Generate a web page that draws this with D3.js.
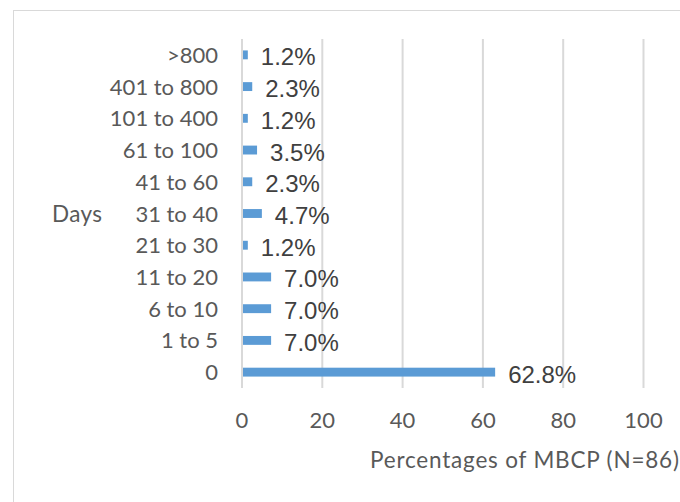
<!DOCTYPE html>
<html><head><meta charset="utf-8">
<script src="https://cdn.jsdelivr.net/npm/d3@7"></script>
<style>body{margin:0;background:#fff}svg{display:block}</style>
</head><body><svg id="c" width="680" height="502"></svg>
<script>
const categories = ["0","1 to 5","6 to 10","11 to 20","21 to 30","31 to 40","41 to 60","61 to 100","101 to 400","401 to 800",">800"];
const values = [62.8,7.0,7.0,7.0,1.2,4.7,2.3,3.5,1.2,2.3,1.2];
const xTicks = [0,20,40,60,80,100];
const xTitle = "Percentages of MBCP (N=86)";
const yTitle = "Days";

const svg = d3.select("#c");
svg.append("rect").attr("x",13.5).attr("y",10.5).attr("width",700).attr("height",520)
  .attr("fill","#fff").attr("stroke","#d9d9d9").attr("stroke-width",1);

const x = d3.scaleLinear().domain([0,100]).range([242,643.5]);
const y = d3.scaleBand().domain(categories.slice().reverse()).range([39,388]).paddingInner(0.72).paddingOuter(0.36);

// gridlines
svg.append("g").selectAll("line").data(xTicks).join("line")
  .attr("x1",d=>x(d)).attr("x2",d=>x(d)).attr("y1",39).attr("y2",388)
  .attr("stroke","#d9d9d9").attr("stroke-width",2);

// bars
svg.append("g").selectAll("rect").data(categories).join("rect")
  .attr("x",x(0)+1).attr("y",d=>y(d))
  .attr("width",(d,i)=>Math.max(0,x(values[i])-x(0)))
  .attr("height",y.bandwidth())
  .attr("fill","#5b9bd5");

// data labels
svg.append("g").selectAll("text").data(categories).join("text")
  .attr("x",(d,i)=>x(values[i])+14)
  .attr("y",d=>y(d)+y.bandwidth()/2+10.5)
  .attr("font-family","Liberation Sans, Arial, sans-serif").attr("font-size",24)
  .attr("fill","#404040")
  .text((d,i)=>values[i].toFixed(1)+"%");

// category labels
svg.append("g").selectAll("text").data(categories).join("text")
  .attr("x",218).attr("y",d=>y(d)+y.bandwidth()/2+8)
  .attr("text-anchor","end")
  .attr("font-family","Lato, sans-serif").attr("font-size",22)
  .attr("fill","#595959").text(d=>d);

// x tick labels
svg.append("g").selectAll("text").data(xTicks).join("text")
  .attr("x",d=>x(d)).attr("y",428)
  .attr("text-anchor","middle")
  .attr("font-family","Lato, sans-serif").attr("font-size",22)
  .attr("fill","#595959").text(d=>d);

svg.append("text").attr("x",370).attr("y",468)
  .attr("font-family","Lato, sans-serif").attr("font-size",22.5)
  .attr("textLength",309).attr("lengthAdjust","spacing")
  .attr("fill","#595959").text(xTitle);

svg.append("text").attr("x",52).attr("y",222)
  .attr("font-family","Lato, sans-serif").attr("font-size",22.5)
  .attr("textLength",50).attr("lengthAdjust","spacing")
  .attr("fill","#595959").text(yTitle);
</script></body></html>
